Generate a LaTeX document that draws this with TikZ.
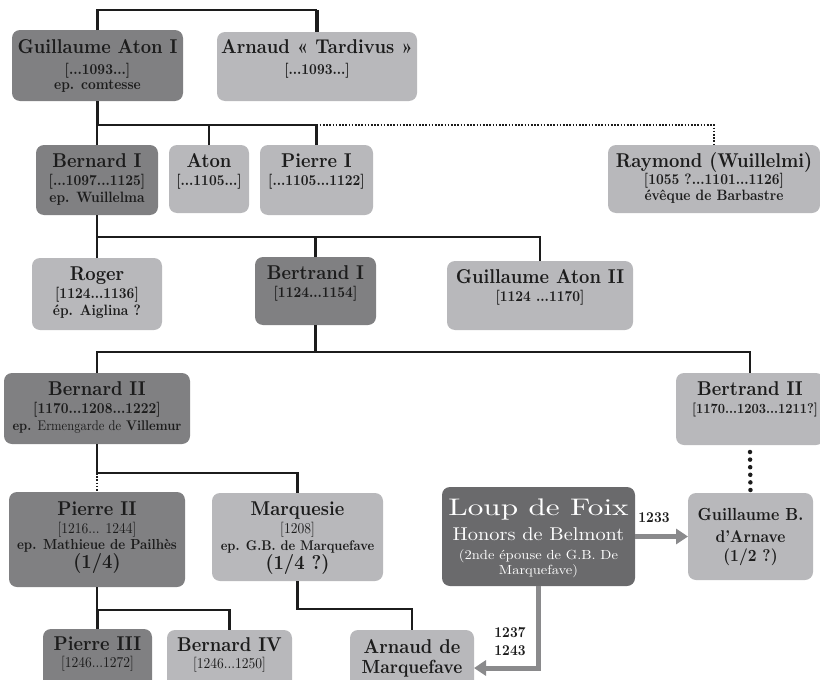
\documentclass[tikz,border=0pt]{standalone}
\usepackage{fontspec}
\setmainfont{lmroman10-regular.otf}[BoldFont=lmroman10-bold.otf, FakeStretch=0.9]
\newfontfamily\loupfont{lmroman10-regular.otf}[FakeStretch=1.1]
\newfontfamily\loupbig{lmroman10-regular.otf}[FakeStretch=1.3]
\usetikzlibrary{arrows.meta}
\definecolor{famdk}{RGB}{128,128,130}
\definecolor{famdkr}{RGB}{106,106,108}
\definecolor{famlt}{RGB}{184,184,187}
\definecolor{famink}{RGB}{28,28,28}
\definecolor{famarrow}{RGB}{138,138,140}
\newcommand\famfirst[3]{{\fontsize{#1}{#1}\selectfont\rule{0pt}{#2pt}#3\par}}
\newcommand\famline[3]{{\fontsize{#1}{#2}\selectfont #3\par}}
\newcommand\fambox[7]{\node[#2, minimum width=#5pt, minimum height=#6pt] (#1) at (#3,#4) {\parbox[c][#6pt][t]{#5pt}{\centering #7}};}
\tikzset{
  fambase/.style={rounded corners=8pt, inner sep=0pt, outer sep=0pt, text=famink},
  famdark/.style={fambase, fill=famdk},
  famlight/.style={fambase, fill=famlt},
  famloup/.style={fambase, fill=famdkr, text=white},
  link/.style={line width=2.2pt, draw=famink},
  dotlink/.style={line width=1.6pt, draw=famink, dash pattern=on 1.6pt off 1.6pt},
  bigdots/.style={line width=4.5pt, draw=famink, line cap=round, dash pattern=on 0pt off 7.6pt},
  grayarrow/.style={line width=5pt, draw=famarrow, -{Triangle[length=12pt,width=15pt]}},
  yearlbl/.style={font=\bfseries\fontsize{15}{18}\selectfont, text=famink, align=center, inner sep=0pt}
}
\begin{document}
\begin{tikzpicture}[x=1pt,y=-1pt]
\clip (0,0) rectangle (820,680);
% boxes
\fambox{ga1}{famdark}{97.5}{65.5}{171}{71}{\famfirst{20}{23}{\bfseries Guillaume Aton I}\famline{15}{21}{\bfseries [...1093...]}\famline{15}{15}{\bfseries ep. comtesse}}
\fambox{arn}{famlight}{317}{66.5}{200}{69}{\famfirst{20}{21}{\bfseries Arnaud « Tardivus »}\famline{15}{21}{\bfseries [...1093...]}}
\fambox{ber1}{famdark}{97}{180}{122}{70}{\famfirst{20}{22}{\bfseries Bernard I}\famline{15}{18}{\bfseries [...1097...1125]}\famline{15}{17}{\bfseries ep. Wuillelma}}
\fambox{aton}{famlight}{209}{179}{80}{68}{\famfirst{20}{22}{\bfseries Aton}\famline{15}{18}{\bfseries [...1105...]}}
\fambox{pie1}{famlight}{316.5}{180}{113}{70}{\famfirst{20}{22}{\bfseries Pierre I}\famline{15}{18}{\bfseries [...1105...1122]}}
\fambox{ray}{famlight}{714}{179}{212}{68}{\famfirst{20}{22}{\bfseries Raymond (Wuillelmi)}\famline{15}{17}{\bfseries [1055 ?...1101...1126]}\famline{15}{16}{\bfseries évêque de Barbastre}}
\fambox{rog}{famlight}{97}{294}{130}{72}{\famfirst{20}{22}{\bfseries Roger}\famline{15}{18}{\bfseries [1124...1136]}\famline{15}{17}{\bfseries ép. Aiglina ?}}
\fambox{bet1}{famdark}{315.5}{291}{121}{68}{\famfirst{20}{22}{\bfseries Bertrand I}\famline{15}{18}{\bfseries [1124...1154]}}
\fambox{ga2}{famlight}{540}{295.5}{186}{69}{\famfirst{20}{22}{\bfseries Guillaume Aton II}\famline{15}{18}{\bfseries [1124 ...1170]}}
\fambox{ber2}{famdark}{97}{408.5}{186}{71}{\famfirst{20}{22}{\bfseries Bernard II}\famline{15}{18}{\bfseries [1170...1208...1222]}\famline{14}{17}{\bfseries ep. {\mdseries Ermengarde de} Villemur}}
\fambox{bet2}{famlight}{750}{409}{148}{72}{\famfirst{20}{22}{\bfseries Bertrand II}\famline{14}{18}{\hspace*{10pt}\bfseries [1170...1203...1211?]}}
\fambox{pie2}{famdark}{97}{539.5}{176}{95}{\famfirst{20}{23}{\bfseries Pierre II}\famline{15}{18}{[1216... 1244]}\famline{14.5}{16}{\bfseries ep. Mathieue de Pailhès}\famline{20}{19}{\bfseries (1/4)}}
\fambox{mar}{famlight}{297.5}{537}{171}{88}{\famfirst{20}{22}{\bfseries Marquesie}\famline{15}{18}{[1208]}\famline{14}{17}{\bfseries ep. G.B. de Marquefave}\famline{20}{19}{\bfseries (1/4 ?)}}
\fambox{loup}{famloup}{538.5}{536.5}{193}{99}{\famfirst{24}{28}{\loupbig Loup de Foix}\famline{18.5}{25}{\loupfont Honors de Belmont}\famline{13.2}{19}{\loupfont (2nde épouse de G.B. De}\famline{13.2}{15}{\loupfont Marquefave)}}
\fambox{gba}{famlight}{750.5}{536.5}{125}{87}{\famfirst{17.5}{27}{\bfseries Guillaume B.}\famline{17}{22}{\bfseries d'Arnave}\famline{17}{19}{\bfseries (1/2 ?)}}
\fambox{pie3}{famdark}{97.5}{667.5}{109}{77}{\famfirst{20}{21}{\bfseries Pierre III}\famline{15}{17}{[1246...1272]}}
\fambox{ber4}{famlight}{229.5}{668}{125}{76}{\famfirst{20}{21}{\bfseries Bernard IV}\famline{15}{17}{[1246...1250]}}
\fambox{arm}{famlight}{412}{668}{124}{76}{\famfirst{20}{23}{\bfseries Arnaud de}\famline{19}{20}{\bfseries Marquefave}}
% junction levels
\coordinate (top) at (0,10);
\coordinate (j1) at (0,125);
\coordinate (j2) at (0,237);
\coordinate (j3) at (0,352);
\coordinate (j4) at (0,473);
\coordinate (j5) at (0,610);
\coordinate (j6) at (0,609);
% connectors
\draw[link] (ga1.north) |- (arn.north |- top);
\draw[line width=4pt, draw=famink] (arn.north |- top) -- (arn.north);
\draw[link] (ga1.south) -- (ga1.south |- j1) -- (pie1.north |- j1);
\draw[link] (ber1.north) -- (ber1.north |- j1);
\draw[link] (aton.north) -- (aton.north |- j1);
\draw[link] (pie1.north) -- (pie1.north |- j1);
\draw[dotlink] (pie1.north |- j1) -| (ray.north);
\draw[link] (ber1.south) -- (ber1.south |- j2);
\draw[link] (rog.north) |- (ga2.north |- j2) -- (ga2.north);
\draw[link] (bet1.north) -- (bet1.north |- j2);
\draw[link] (bet1.south) -- (bet1.south |- j3);
\draw[link] (ber2.north) |- (bet2.north |- j3) -- (bet2.north);
\draw[link] (ber2.south) -- (ber2.south |- j4) -| (mar.north);
\draw[dotlink] (ber2.south |- j4) -- (pie2.north);
\draw[bigdots] (bet2.south) ++(0,7) -- (gba.north);
\draw[link] (pie2.south) -- (pie2.south |- j5) -| (ber4.north);
\draw[link] (pie3.north) -- (pie3.north |- j5);
\draw[link] (mar.south) -- (mar.south |- j6) -| (arm.north);
\draw[grayarrow] (loup.east) -- (gba.west);
\draw[grayarrow] (loup.south) |- (arm.east);
\node[yearlbl] (y1233) at (654,518) {1233};
\node[yearlbl] (y1237) at (510,642) {1237\\1243};
\end{tikzpicture}
\end{document}
